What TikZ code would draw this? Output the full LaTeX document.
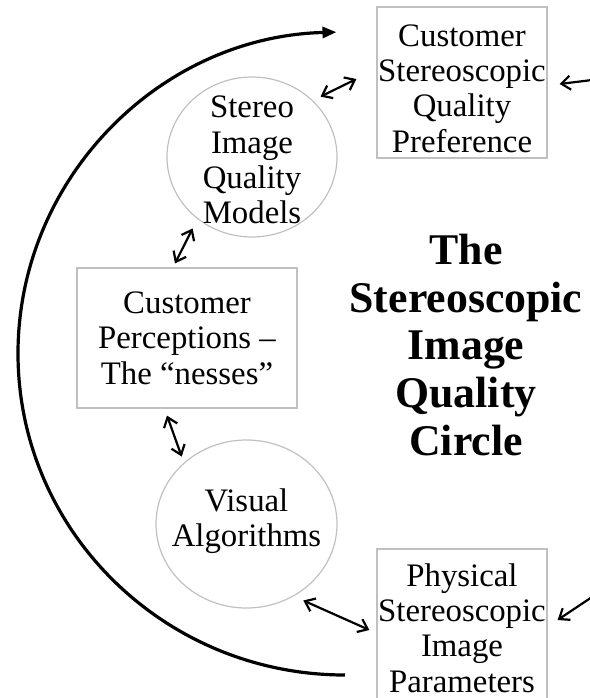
\documentclass[tikz,border=0pt]{standalone}
\usepackage{fontspec}
\setmainfont{Liberation Serif}
\usetikzlibrary{arrows.meta,shapes.geometric}
\definecolor{sqgray}{RGB}{192,192,192}
\newcommand{\sqbody}{\fontsize{16.4}{17.7}\selectfont}
\newcommand{\sqtitle}{\fontsize{21.9}{23.8}\selectfont\bfseries}
\tikzset{
  bubble/.style={ellipse, draw=sqgray, line width=0.6pt, inner sep=0pt},
  panel/.style={rectangle, draw=sqgray, line width=0.6pt, inner sep=0pt},
  caption/.style={font=\sqbody, align=center, inner sep=0pt},
  twoway/.style={{Straight Barb[length=4.5pt,width=7pt]}-{Straight Barb[length=4.5pt,width=7pt]}, line width=1.1pt},
  oneway/.style={-{Straight Barb[length=4.5pt,width=7pt]}, line width=1.1pt},
  cyclearc/.style={-{Triangle[length=7pt,width=5.5pt]}, line width=1.6pt}
}

\begin{document}
\begin{tikzpicture}[x=0.5pt, y=-0.5pt]
  \useasboundingbox (0,0) rectangle (590,698);
  % Boxes on the right
  \node[panel, minimum width=85pt, minimum height=75.5pt,
        label={[caption, yshift=-3pt]center:{Customer\\Stereoscopic\\Quality\\Preference}}]
        (pref) at (462,82.5) {};
  \node[panel, minimum width=85pt, minimum height=75.5pt,
        label={[caption, yshift=-1.75pt]center:{Physical\\Stereoscopic\\Image\\Parameters}}]
        (params) at (462,624.5) {};
  % Left column
  \node[bubble, minimum width=85pt, minimum height=80pt,
        label={[caption, yshift=-1.5pt]center:{Stereo\\Image\\Quality\\Models}}]
        (models) at (252,157) {};
  \node[panel, minimum width=110pt, minimum height=70pt,
        label={[caption]center:{Customer\\Perceptions --\\The “nesses”}}]
        (percept) at (187,338) {};
  \node[bubble, minimum width=90.5pt, minimum height=84pt,
        label={[caption, yshift=1.5pt]center:{Visual\\Algorithms}}]
        (visual) at (246.5,524) {};
  % Title
  \node[align=center, font=\sqtitle] (title) at (466,345)
        {The\\Stereoscopic\\Image\\Quality\\Circle};
  % Big loop
  \coordinate (loopstart) at (345,675);
  \draw[cyclearc] (loopstart) arc[start angle=270, end angle=91.5, x radius=163.5pt, y radius=160.75pt];
  % Links
  \draw[twoway] ([shift={(2.3pt,3.4pt)}]models.40) -- ([shift={(-10pt,1.75pt)}]pref.west);
  \draw[twoway] ([shift={(-3.15pt,-4.1pt)}]models.230) -- ([shift={(-6pt,2pt)}]percept.north);
  \draw[twoway] ([shift={(-10pt,-3.5pt)}]percept.south) -- ([shift={(-2pt,2.25pt)}]visual.134);
  \draw[twoway] ([shift={(2.3pt,-3.6pt)}]visual.-53) -- ([shift={(-3.5pt,-2.75pt)}]params.west);
  % Inputs from the right
  \coordinate (prefin) at (592,80);
  \coordinate (paramsin) at (592,597);
  \draw[oneway] (prefin) -- ([shift={(6pt,-0.75pt)}]pref.east);
  \draw[oneway] (paramsin) -- ([shift={(5pt,2.25pt)}]params.east);
\end{tikzpicture}
\end{document}
